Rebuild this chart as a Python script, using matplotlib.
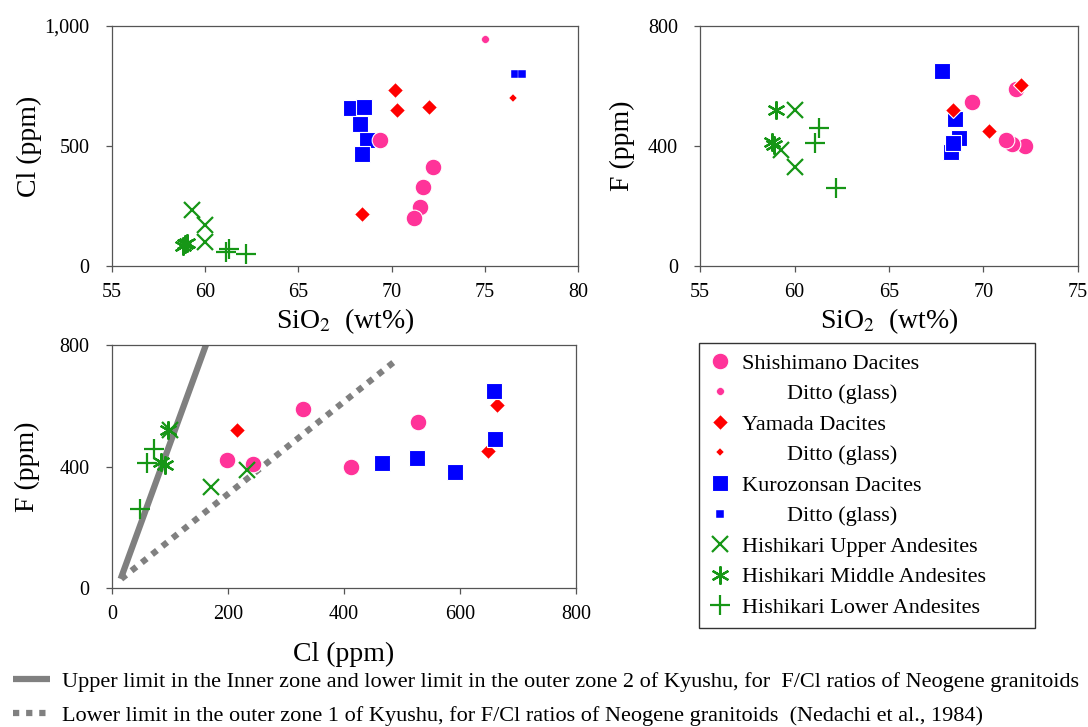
import matplotlib

matplotlib.use("Agg")

import matplotlib.pyplot as plt
import numpy as np
from matplotlib.lines import Line2D
from matplotlib.ticker import FuncFormatter

plt.rcParams["font.family"] = ["Liberation Serif", "DejaVu Serif"]
plt.rcParams["mathtext.fontset"] = "stix"

# ---- data ----
shishi_sio2 = [69.4, 72.2, 71.7, 71.5, 71.2]
shishi_cl = [527, 412, 329, 244, 199]
shishi_f = [548, 400, 590, 407, 421]
shishi_glass_sio2 = [75.0]
shishi_glass_cl = [947]

yamada_sio2 = [70.2, 70.3, 72.0, 68.4]
yamada_cl = [735, 649, 663, 215]
yamada_f = [np.nan, 450, 602, 520]
yamada_glass_sio2 = [76.5]
yamada_glass_cl = [700]

kuro_sio2 = [67.8, 68.5, 68.3, 68.7, 68.4]
kuro_cl = [658, 661, 592, 526, 465]
kuro_f = [650, 489, 381, 428, 411]
kuro_glass_sio2 = [76.6, 77.0]
kuro_glass_cl = [802, 802]

upper_sio2 = [59.3, 60.0, 60.0]
upper_cl = [232, 171, 100]
upper_f = [387, 331, 520]

middle_sio2 = [58.8, 58.9, 59.0]
middle_cl = [84, 91, 96]
middle_f = [414, 405, 520]

lower_sio2 = [61.3, 61.1, 62.2]
lower_cl = [72, 60, 48]
lower_f = [459, 411, 260]

# F/Cl reference lines (Nedachi et al., 1984)
upper_line_cl = [15, 162]
upper_line_f = [30, 800]
lower_line_cl = [16, 490]
lower_line_f = [30, 750]

PINK = "#ff3399"
RED = "#ff0000"
BLUE = "#0000ff"
GREEN = "#169616"
GRAY = "#808080"

styles = {
    "shishi": dict(marker="o", color=PINK, ms=12, mec="white", mew=0.8),
    "shishi_g": dict(marker="o", color=PINK, ms=5.5, mec="white", mew=0.3),
    "yamada": dict(marker="D", color=RED, ms=8.5, mec="white", mew=0.8),
    "yamada_g": dict(marker="D", color=RED, ms=3.8, mec="white", mew=0.3),
    "kuro": dict(marker="s", color=BLUE, ms=11, mec="white", mew=0.8),
    "kuro_g": dict(marker="s", color=BLUE, ms=5.5, mec="white", mew=0.3),
    "upper": dict(marker="x", color=GREEN, ms=12, mew=1.6),
    "middle": dict(marker=(6, 2, 0), color=GREEN, ms=13, mew=1.6),
    "lower": dict(marker="+", color=GREEN, ms=14, mew=1.6),
}


def style_axes(ax, xlim, xticks, ylim, yticks):
    ax.set_xlim(*xlim)
    ax.set_ylim(*ylim)
    ax.set_xticks(xticks)
    ax.set_yticks(yticks)
    for side in ("top", "right", "left", "bottom"):
        ax.spines[side].set_color("#555555")
        ax.spines[side].set_linewidth(0.9)
    ax.tick_params(direction="out", length=4, width=0.9, color="#555555",
                   labelsize=14.5)
    ax.tick_params(axis="x", pad=8)
    ax.tick_params(axis="y", pad=12)


def pts(ax, x, y, key):
    ax.plot(x, y, ls="none", clip_on=False, **styles[key])


fig = plt.figure(figsize=(10.88, 7.27), dpi=100)

# ---- Cl vs SiO2 ----
ax1 = fig.add_axes([0.1029, 0.6341, 0.4283, 0.3301])
style_axes(ax1, (55, 80), [55, 60, 65, 70, 75, 80], (0, 1000), [0, 500, 1000])
ax1.yaxis.set_major_formatter(FuncFormatter(lambda v, p: f"{int(v):,}"))
pts(ax1, kuro_sio2, kuro_cl, "kuro")
pts(ax1, shishi_sio2, shishi_cl, "shishi")
pts(ax1, yamada_sio2, yamada_cl, "yamada")
pts(ax1, shishi_glass_sio2, shishi_glass_cl, "shishi_g")
pts(ax1, yamada_glass_sio2, yamada_glass_cl, "yamada_g")
pts(ax1, kuro_glass_sio2, kuro_glass_cl, "kuro_g")
pts(ax1, upper_sio2, upper_cl, "upper")
pts(ax1, middle_sio2, middle_cl, "middle")
pts(ax1, lower_sio2, lower_cl, "lower")
ax1.set_xlabel("SiO$_2$  (wt%)", fontsize=20, labelpad=3)
ax1.set_ylabel("Cl (ppm)", fontsize=20, labelpad=2)

# ---- F vs SiO2 ----
ax2 = fig.add_axes([0.6434, 0.6341, 0.3474, 0.3301])
style_axes(ax2, (55, 75), [55, 60, 65, 70, 75], (0, 800), [0, 400, 800])
pts(ax2, kuro_sio2, kuro_f, "kuro")
pts(ax2, shishi_sio2, shishi_f, "shishi")
pts(ax2, yamada_sio2, yamada_f, "yamada")
pts(ax2, upper_sio2, upper_f, "upper")
pts(ax2, middle_sio2, middle_f, "middle")
pts(ax2, lower_sio2, lower_f, "lower")
ax2.set_xlabel("SiO$_2$  (wt%)", fontsize=20, labelpad=3)
ax2.set_ylabel("F (ppm)", fontsize=20, labelpad=9)

# ---- F vs Cl ----
ax3 = fig.add_axes([0.1029, 0.1912, 0.4265, 0.3342])
style_axes(ax3, (0, 800), [0, 200, 400, 600, 800], (0, 800), [0, 400, 800])
ax3.plot(upper_line_cl, upper_line_f, color=GRAY, lw=4.5, solid_capstyle="butt")
ax3.plot(lower_line_cl, lower_line_f, color=GRAY, lw=4.5, ls=(0, (1, 1.1)),
         dash_capstyle="butt")
pts(ax3, shishi_cl, shishi_f, "shishi")
pts(ax3, yamada_cl, yamada_f, "yamada")
pts(ax3, kuro_cl, kuro_f, "kuro")
pts(ax3, upper_cl, upper_f, "upper")
pts(ax3, middle_cl, middle_f, "middle")
pts(ax3, lower_cl, lower_f, "lower")
ax3.set_xlabel("Cl (ppm)", fontsize=20, labelpad=13)
ax3.set_ylabel("F (ppm)", fontsize=20, labelpad=14)

# ---- symbol legend (boxed) ----
legend_labels = [
    "Shishimano Dacites", "        Ditto (glass)",
    "Yamada Dacites", "        Ditto (glass)",
    "Kurozonsan Dacites", "        Ditto (glass)",
    "Hishikari Upper Andesites", "Hishikari Middle Andesites",
    "Hishikari Lower Andesites",
]
legend_keys = ["shishi", "shishi_g", "yamada", "yamada_g", "kuro", "kuro_g",
               "upper", "middle", "lower"]
handles = [Line2D([], [], ls="none", **styles[k]) for k in legend_keys]
leg = fig.legend(handles, legend_labels, loc="upper left",
                 bbox_to_anchor=(0.6425, 0.1293, 0.3088, 0.3989), mode="expand",
                 fontsize=16, frameon=True, fancybox=False, edgecolor="black",
                 borderpad=0.45, labelspacing=0.45, handletextpad=0.5,
                 handlelength=1.0, borderaxespad=0)
leg.get_frame().set_linewidth(1.0)

# ---- line legend at the bottom ----
line_labels = [
    "Upper limit in the Inner zone and lower limit in the outer zone 2 of Kyushu, for  F/Cl ratios of Neogene granitoids",
    "Lower limit in the outer zone 1 of Kyushu, for F/Cl ratios of Neogene granitoids  (Nedachi et al., 1984)",
]
line_handles = [
    Line2D([], [], color=GRAY, lw=4.5, solid_capstyle="butt"),
    Line2D([], [], color=GRAY, lw=4.5, ls=(0, (1, 1.1)), dash_capstyle="butt"),
]
leg2 = fig.legend(line_handles, line_labels, loc="upper left",
                  bbox_to_anchor=(0.012, 0.077), fontsize=16,
                  frameon=False, labelspacing=0.62, handletextpad=0.54,
                  handlelength=1.67, borderaxespad=0, borderpad=0)

fig.savefig("out.png", dpi=100)
